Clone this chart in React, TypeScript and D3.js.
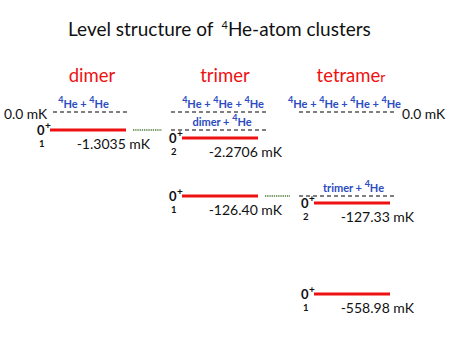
import React from 'react';
import * as d3 from 'd3';

// level diagram of 4He-atom clusters
const clusters = ['dimer', 'trimer', 'tetramer'];

const levelCluster = ['dimer', 'trimer', 'trimer', 'tetramer', 'tetramer'];
const levelEnergy = [-1.3035, -2.2706, -126.4, -127.33, -558.98];
const levelState = ['1', '2', '1', '2', '1'];
const levelLabel = ['-1.3035 mK', '-2.2706 mK', '-126.40 mK', '-127.33 mK', '-558.98 mK'];

const thresholdCluster = ['dimer', 'trimer', 'trimer', 'tetramer', 'tetramer'];
const thresholdEnergy = [0, 0, -1.3035, 0, -126.4];
const thresholdParts = [
  ['He', 'He'],
  ['He', 'He', 'He'],
  ['dimer', 'He'],
  ['He', 'He', 'He', 'He'],
  ['trimer', 'He'],
];

// dotted links: level index -> threshold index in the next cluster
const linkFrom = [0, 2];
const linkTo = [2, 4];

const zeroLabel = '0.0 mK';

const W = 463;
const H = 348;
const FONT = 'Lato, "Open Sans", sans-serif';
const RED = '#ee1111';
const BLUE = '#2a4cc0';

// broken energy axis: near-degenerate levels are spread apart
const yDomain = [0, -1.3035, -2.2706, -126.4, -127.33, -558.98];
const yRange = [112, 130, 138, 196, 203, 294];

const dashSpan: Record<string, [number, number]> = {
  dimer: [-35, 42],
  trimer: [-49, 47],
  tetramer: [-53, 44],
};
// horizontal nudge of each threshold caption
const captionShift = [-8, 4, 3, -3, 6];

const App = () => {
  const x = d3.scalePoint<string>().domain(clusters).range([88, 352]);
  const y = d3.scaleLinear().domain(yDomain).range(yRange);
  const half = 38;

  const thresholdX = (i: number) => {
    const c = thresholdCluster[i];
    const cx = x(c) as number;
    return [cx + dashSpan[c][0], cx + dashSpan[c][1]];
  };

  return (
    <svg width={W} height={H} style={{ position: 'absolute', left: 0, top: 0, background: '#fff' }} fontFamily={FONT}>
      <text x={68} y={36} fontSize={19} fill="#111">
        Level structure of
        <tspan fontSize={11} dx={8} dy={-7}>4</tspan>
        <tspan dy={7}>He-atom clusters</tspan>
      </text>

      {clusters.map((c) => (
        <text key={c} x={(x(c) as number) + (c === 'tetramer' ? -1 : c === 'dimer' ? 4 : 5)} y={82} fontSize={18.5} fill={RED} textAnchor="middle">
          {c === 'tetramer' ? (
            <>
              {c.slice(0, -1)}
              <tspan fontSize={14}>{c.slice(-1)}</tspan>
            </>
          ) : c}
        </text>
      ))}

      {/* thresholds */}
      {thresholdEnergy.map((e, i) => {
        const [x0, x1] = thresholdX(i);
        const yy = y(e);
        const parts = thresholdParts[i];
        return (
          <g key={'t' + i}>
            <line x1={x0} x2={x1} y1={yy} y2={yy} stroke="#555" strokeWidth={1.3} strokeDasharray="4,3" />
            <text x={(x0 + x1) / 2 + captionShift[i]} y={yy - 4} fontSize={11} fontWeight="bold" fill={BLUE} textAnchor="middle">
              {parts.map((p, k) => (
                <React.Fragment key={k}>
                  {k > 0 ? <tspan>{' + '}</tspan> : null}
                  {p === 'He' ? (
                    <>
                      <tspan fontSize={9} dy={-5}>4</tspan>
                      <tspan dy={5}>He</tspan>
                    </>
                  ) : (
                    <tspan>{p}</tspan>
                  )}
                </React.Fragment>
              ))}
            </text>
          </g>
        );
      })}

      <text x={4} y={119} fontSize={13.8} fill="#111">{zeroLabel}</text>
      <text x={402} y={119} fontSize={13.8} fill="#111">{zeroLabel}</text>

      {/* dotted links */}
      {linkFrom.map((li, k) => {
        const yy = y(levelEnergy[li]);
        const xs = (x(levelCluster[li]) as number) + half + 7;
        const xe = thresholdX(linkTo[k])[0] - 9;
        return (
          <line key={'l' + k} x1={xs} x2={xe} y1={yy} y2={yy} stroke="#4f7a35" strokeWidth={1.6} strokeDasharray="1.3,0.9" />
        );
      })}

      {/* bound levels */}
      {levelEnergy.map((e, i) => {
        const cx = x(levelCluster[i]) as number;
        const yy = y(e);
        const sx = cx - half - 13;
        return (
          <g key={'v' + i}>
            <line x1={cx - half} x2={cx + half} y1={yy} y2={yy} stroke={RED} strokeWidth={3} />
            <text x={sx} y={yy + 5} fontSize={13} fontWeight="bold" fill="#111">0</text>
            <text x={sx + 8} y={yy - 1} fontSize={10} fontWeight="bold" fill="#111">+</text>
            <text x={sx + 2} y={yy + 17} fontSize={9.5} fontWeight="bold" fill="#111">{levelState[i]}</text>
            <text x={cx + 62} y={yy + 19} fontSize={14} fill="#111" textAnchor="end">
              {levelLabel[i]}
            </text>
          </g>
        );
      })}
    </svg>
  );
};

export default App;
